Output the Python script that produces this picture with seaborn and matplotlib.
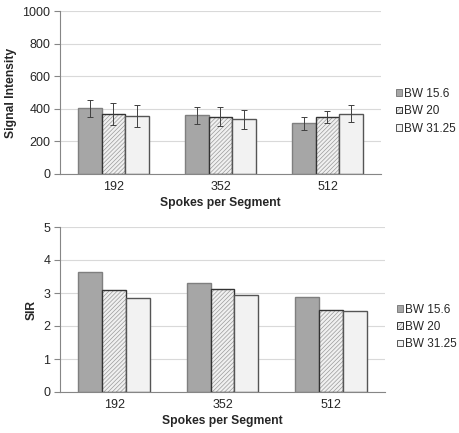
import pandas as pd
import numpy as np
import matplotlib.pyplot as plt
import matplotlib.colors as mcolors
import seaborn as sns
from matplotlib.patches import Patch

sns.set_style("white")
plt.rcParams['font.family'] = ['Liberation Sans', 'DejaVu Sans']
plt.rcParams['hatch.linewidth'] = 0.5

# data
spokes = ["192", "352", "512"]
bandwidths = ["BW 15.6", "BW 20", "BW 31.25"]
signal_156 = [402, 361, 311]
signal_20 = [369, 352, 348]
signal_3125 = [356, 336, 369]
err_156 = [50, 52, 38]
err_20 = [68, 57, 38]
err_3125 = [68, 59, 53]
sir_156 = [3.65, 3.30, 2.87]
sir_20 = [3.09, 3.11, 2.48]
sir_3125 = [2.85, 2.95, 2.44]

face = ["#a6a6a6", "#f0f0f0", "#f2f2f2"]
edges = ["#7f7f7f", "#333333", "#555555"]
hatches = [None, "////////", None]
hatch_col = "#9a9a9a"

def make_df(a, b, c):
    rows = []
    for vals, bw in zip([a, b, c], bandwidths):
        for s, v in zip(spokes, vals):
            rows.append({"spokes": s, "bw": bw, "val": v})
    return pd.DataFrame(rows)

sig = make_df(signal_156, signal_20, signal_3125)
sir = make_df(sir_156, sir_20, sir_3125)
errs = [err_156, err_20, err_3125]

fig = plt.figure(figsize=(4.6, 4.33), dpi=100)
ax1 = fig.add_axes([60/460, 1-174/433, 321/460, 163/433])
ax2 = fig.add_axes([60/460, 1-392/433, 325/460, 165/433])


def style_patch(p, i):
    p.set_facecolor(face[i])
    p.set_edgecolor(edges[i])
    p.set_linewidth(1.0)
    if hatches[i]:
        p.set_hatch(hatches[i])
        # lighter hatch lines than the outline
        p._hatch_color = mcolors.to_rgba(hatch_col)


def draw(ax, df, ylim, step, ylabel, leg_x, leg_y, err=None):
    sns.barplot(data=df, x="spokes", y="val", hue="bw", order=spokes,
                hue_order=bandwidths, width=0.66, ax=ax, legend=False,
                errorbar=None, saturation=1)
    bar_groups = list(ax.containers)
    for i, cont in enumerate(bar_groups):
        for j, p in enumerate(cont.patches):
            style_patch(p, i)
            if err is not None:
                xc = p.get_x() + p.get_width() / 2
                ax.errorbar(xc, p.get_height(), yerr=err[i][j], fmt="none",
                            ecolor="#404040", elinewidth=0.7, capsize=2.5,
                            capthick=0.7)
    ax.set_xlim(-0.5, 2.5)
    ax.set_ylim(0, ylim)
    ax.set_yticks(np.arange(0, ylim + step / 2, step))
    ax.yaxis.grid(True, color="#d9d9d9", linewidth=0.8)
    ax.set_axisbelow(True)
    for s in ["top", "right"]:
        ax.spines[s].set_visible(False)
    ax.spines["left"].set_color("#868686")
    ax.spines["bottom"].set_color("#868686")
    ax.spines["left"].set_linewidth(0.8)
    ax.spines["bottom"].set_linewidth(0.8)
    ax.set_xticks([-0.5, 0.5, 1.5, 2.5], minor=True)
    ax.tick_params(axis="x", which="minor", length=4, color="#868686", width=0.8, direction="out")
    ax.tick_params(axis="x", which="major", length=0, labelsize=9, pad=5)
    ax.tick_params(axis="y", which="major", length=4, color="#868686", width=0.8,
                   labelsize=9, direction="out", left=True, pad=3)
    ax.set_xlabel("Spokes per Segment", fontsize=8.7, fontweight="bold", labelpad=3)
    ax.set_ylabel(ylabel, fontsize=8.7, fontweight="bold")
    handles = []
    for i in range(3):
        h = Patch(label=bandwidths[i])
        style_patch(h, i)
        h.set_linewidth(0.7)
        handles.append(h)
    ax.legend(handles=handles, loc="center left", bbox_to_anchor=(leg_x, leg_y),
              frameon=False, fontsize=8.5, handlelength=0.5, handleheight=0.5,
              handletextpad=0.2, labelspacing=0.45, borderaxespad=0, borderpad=0)


draw(ax1, sig, 1000, 200, "Signal Intensity", 1.046, 0.385, err=errs)
draw(ax2, sir, 5, 1, "SIR", 1.036, 0.395)

fig.savefig("out.png", dpi=100)
